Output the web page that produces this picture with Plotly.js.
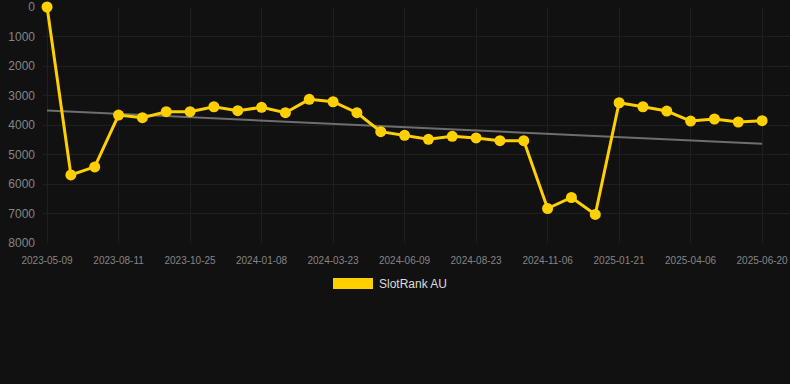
<!DOCTYPE html>
<html>
<head>
<meta charset="utf-8">
<script src="https://cdn.plot.ly/plotly-3.0.1.min.js"></script>
<style>
  html, body { margin: 0; padding: 0; background: #111111; }
  #chart { width: 790px; height: 384px; }
</style>
</head>
<body>
<div id="chart"></div>
<script>
// Categories (one per observation; every third one is labelled on the axis)
const dates = [
  "2023-05-09", "2023-06-09", "2023-07-10",
  "2023-08-11", "2023-09-05", "2023-09-30",
  "2023-10-25", "2023-11-19", "2023-12-14",
  "2024-01-08", "2024-02-02", "2024-02-27",
  "2024-03-23", "2024-04-18", "2024-05-14",
  "2024-06-09", "2024-07-04", "2024-07-29",
  "2024-08-23", "2024-09-17", "2024-10-12",
  "2024-11-06", "2024-12-01", "2024-12-26",
  "2025-01-21", "2025-02-15", "2025-03-12",
  "2025-04-06", "2025-05-01", "2025-05-26",
  "2025-06-20"
];
// Series values (rank, lower is better; axis reversed)
const slotRankAU = [
  0, 5691, 5420,
  3662, 3753, 3550,
  3550, 3381, 3516,
  3401, 3584, 3131,
  3212, 3584, 4227,
  4348, 4484, 4382,
  4440, 4531, 4531,
  6830, 6458, 7033,
  3246, 3381, 3527,
  3865, 3797, 3898,
  3855
];
// Tick labels shown on the x axis
const xTickLabels = [
  "2023-05-09", "2023-08-11", "2023-10-25", "2024-01-08", "2024-03-23",
  "2024-06-09", "2024-08-23", "2024-11-06", "2025-01-21", "2025-04-06", "2025-06-20"
];
const yTickVals = [0, 1000, 2000, 3000, 4000, 5000, 6000, 7000, 8000];
const seriesName = "SlotRank AU";

// Least-squares trend over the observation index
const n = slotRankAU.length;
let sx = 0, sy = 0, sxx = 0, sxy = 0;
for (let i = 0; i < n; i++) {
  sx += i; sy += slotRankAU[i]; sxx += i * i; sxy += i * slotRankAU[i];
}
const slope = (n * sxy - sx * sy) / (n * sxx - sx * sx);
const intercept = (sy - slope * sx) / n;
const trendY = dates.map((d, i) => intercept + slope * i);

const gold = "#FFD000";
const traces = [
  {
    x: dates, y: trendY, type: "scatter", mode: "lines",
    line: { color: "#6e6e6e", width: 2 },
    hoverinfo: "skip", showlegend: false
  },
  {
    x: dates, y: slotRankAU, type: "scatter", mode: "lines+markers",
    name: seriesName,
    line: { color: gold, width: 3 },
    marker: { color: gold, size: 11 },
    cliponaxis: false, showlegend: false
  }
];

const layout = {
  width: 790, height: 384,
  paper_bgcolor: "#111111", plot_bgcolor: "#111111",
  margin: { l: 43, r: 0, t: 7, b: 141 },
  font: { family: "Liberation Sans, Arial, sans-serif", color: "#888888" },
  showlegend: false,
  xaxis: {
    type: "category",
    range: [-0.17, 31.17],
    tickmode: "array", tickvals: xTickLabels, ticktext: xTickLabels,
    showgrid: true, gridcolor: "#1f1f1f", gridwidth: 1,
    zeroline: false, showline: false,
    ticks: "", ticklen: 0,
    tickfont: { size: 10, color: "#858585" },
    tickangle: 0,
    ticklabelstandoff: 10
  },
  yaxis: {
    range: [8000, 0],
    tickmode: "array", tickvals: yTickVals,
    showgrid: true, gridcolor: "#1f1f1f", gridwidth: 1,
    zeroline: false, showline: false,
    ticks: "", ticklen: 0,
    tickfont: { size: 12, color: "#858585" },
    ticklabelstandoff: 7
  },
  shapes: [
    {
      type: "rect", xref: "paper", yref: "paper",
      x0: (333 - 43) / 747, x1: (373 - 43) / 747,
      y0: (243 - 289) / 236, y1: (243 - 278) / 236,
      fillcolor: gold, line: { width: 0 }
    }
  ],
  annotations: [
    {
      xref: "paper", yref: "paper",
      x: (377 - 43) / 747, y: (243 - 284) / 236,
      xanchor: "left", yanchor: "middle",
      text: seriesName, showarrow: false,
      font: { size: 12, color: "#dddddd", family: "Liberation Sans, Arial, sans-serif" }
    }
  ]
};

Plotly.newPlot("chart", traces, layout, { displayModeBar: false, staticPlot: true });
</script>
</body>
</html>
